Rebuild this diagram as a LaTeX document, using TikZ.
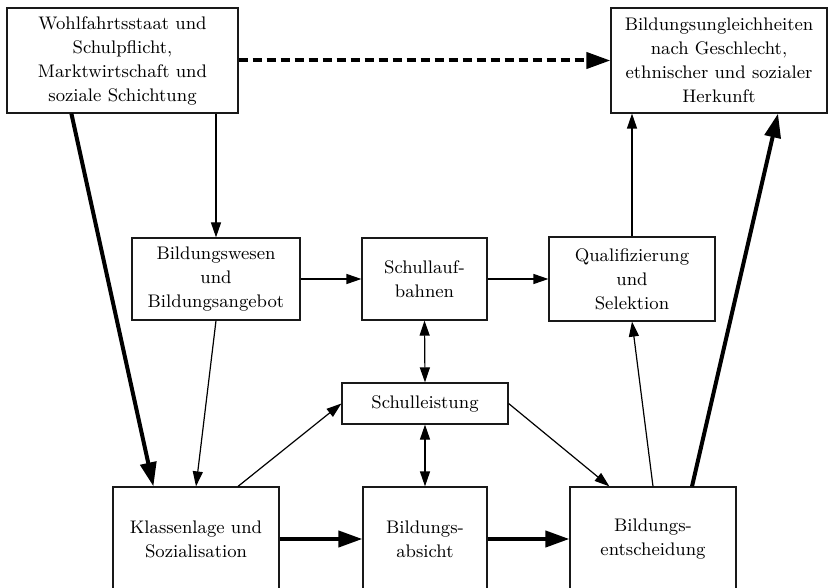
\documentclass[tikz,border=0pt]{standalone}
\usetikzlibrary{arrows.meta, calc}

\begin{document}
\begin{tikzpicture}[x=0.5pt, y=-0.5pt,
        box/.style={rectangle, draw=black!90, line width=0.6pt, align=center, inner sep=2pt, font=\fontsize{9.1}{12}\selectfont},
        flow/.style={line width=0.6pt, -{Triangle[length=7.5pt, width=5pt]}},
        both/.style={line width=0.6pt, {Triangle[length=7.5pt, width=5pt]}-{Triangle[length=7.5pt, width=5pt]}},
        strong/.style={line width=2pt, -{Triangle[length=12pt, width=8pt]}},
        hint/.style={strong, dash pattern=on 4.5pt off 2.5pt}
    ]
        % Frame
        \useasboundingbox (0,0) rectangle (829,588);
        \clip (0,0) rectangle (829,588);

        % Top row
        \node[box, minimum width=115.5pt, minimum height=52.5pt] (staat) at (122.5,60.5) {Wohlfahrtsstaat und\\Schulpflicht,\\Marktwirtschaft und\\soziale Schichtung};
        \node[box, minimum width=108pt, minimum height=52.5pt] (ungleich) at (719,60.5) {Bildungsungleichheiten\\nach Geschlecht,\\ethnischer und sozialer\\Herkunft};

        % Middle row
        \node[box, minimum width=84pt, minimum height=41pt] (wesen) at (216,279) {Bildungswesen\\und\\Bildungsangebot};
        \node[box, minimum width=62.5pt, minimum height=41pt] (bahnen) at (424.5,279) {Schullauf-\\bahnen};
        \node[box, minimum width=83pt, minimum height=42pt] (selektion) at (632,279) {Qualifizierung\\und\\Selektion};
        \node[box, minimum width=83pt, minimum height=20.5pt] (leistung) at (425,403.5) {Schulleistung};

        % Bottom row
        \node[box, minimum width=83pt, minimum height=52pt] (klasse) at (196,539) {Klassenlage und\\Sozialisation};
        \node[box, minimum width=62pt, minimum height=52pt] (absicht) at (425,539) {Bildungs-\\absicht};
        \node[box, minimum width=83pt, minimum height=52pt] (entscheidung) at (653,539) {Bildungs-\\entscheidung};

        % Connections
        \draw[hint] (staat.east) -- (ungleich.west);
        \draw[flow] (wesen.north |- staat.south) -- (wesen.north);
        \draw[strong] ([xshift=32.5pt]staat.south west) -- ([xshift=20.5pt]klasse.north west);
        \draw[flow] (wesen.south) -- (klasse.north);
        \draw[flow] ([xshift=21pt]klasse.north) -- (leistung.west);
        \draw[flow] (wesen.east) -- (bahnen.west);
        \draw[flow] (bahnen.east) -- (selektion.west);
        \draw[both] (bahnen.south) -- (leistung.north);
        \draw[both] (leistung.south) -- (absicht.north);
        \draw[flow] (leistung.east) -- ([xshift=20pt]entscheidung.north west);
        \draw[flow] (entscheidung.north) -- (selektion.south);
        \draw[flow] (selektion.north) -- (selektion.north |- ungleich.south);
        \draw[strong] ([xshift=19.5pt]entscheidung.north) -- ([xshift=29.5pt]ungleich.south);
        \draw[strong] (klasse.east) -- (absicht.west);
        \draw[strong] (absicht.east) -- (entscheidung.west);

    \end{tikzpicture}
\end{document}
